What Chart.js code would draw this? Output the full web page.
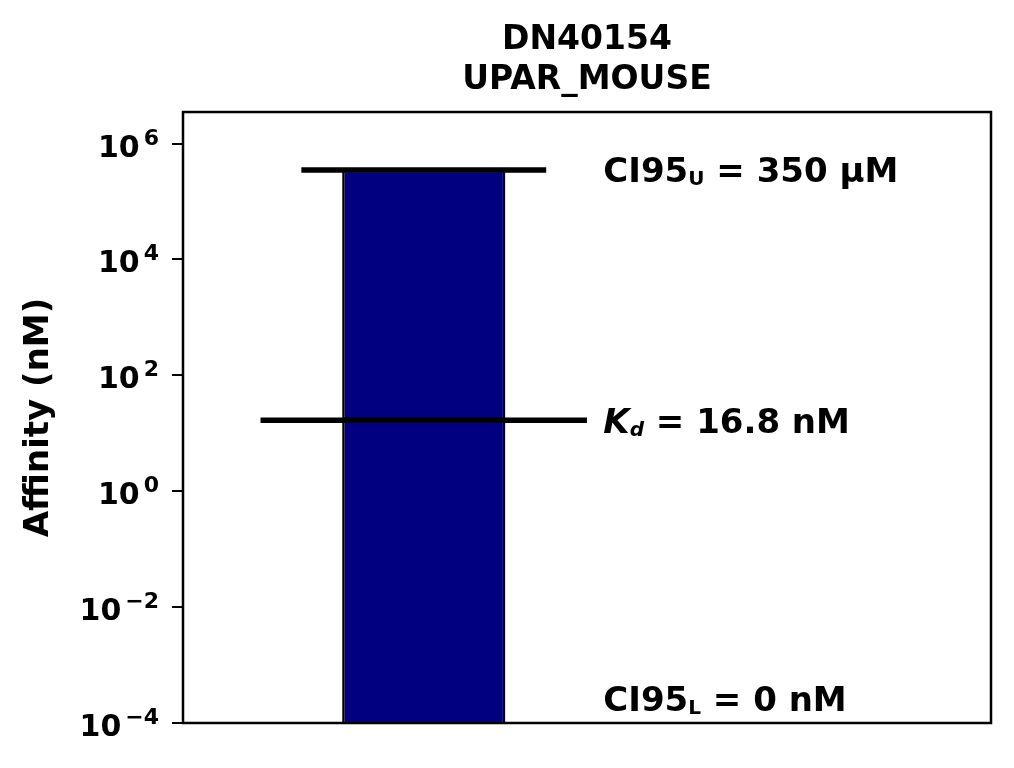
<!DOCTYPE html>
<html lang="en">
<head>
    <meta charset="utf-8">
    <script src="https://cdn.jsdelivr.net/npm/chart.js"></script>
    <style>
        html, body { margin: 0; padding: 0; background: #fff; }
        #wrap { width: 1014px; height: 768px; }
    </style>
</head>
<body>
    <div id="wrap"><canvas id="affinityChart" width="1014" height="768"></canvas></div>

    <script>
        // values in nM
        const titleLines = ['DN40154', 'UPAR_MOUSE'];
        const ciUpper = [350000];
        const kdValues = [16.8];
        const ciLower = [0];
        const yTickValues = [1e-4, 1e-2, 1e0, 1e2, 1e4, 1e6];
        const yTickLabels = ['10^\u22124', '10^\u22122', '10^0', '10^2', '10^4', '10^6'];

        const FONT = "'DejaVu Sans', sans-serif";

        function fmtConc(v) {
            if (v >= 1000) return (v / 1000) + ' \u00B5M';
            return v + ' nM';
        }

        // text next to the bar: [text, style, size factor, drop in px]
        const notes = [
            { value: ciUpper[0], place: 'center', parts: [['CI95', 'bold', 1, 0], ['U', 'bold', 0.6, 3], [' = ' + fmtConc(ciUpper[0]), 'bold', 1, 0]] },
            { value: kdValues[0], place: 'center', parts: [['K', 'italic bold', 1, 0], ['d', 'italic bold', 0.6, 3], [' = ' + fmtConc(kdValues[0]), 'bold', 1, 0]] },
            { value: ciLower[0], place: 'bottom', parts: [['CI95', 'bold', 1, 0], ['L', 'bold', 0.6, 3], [' = ' + fmtConc(ciLower[0]), 'bold', 1, 0]] }
        ];

        const noteSize = 34;
        const noteX = 0.88;

        const notesPlugin = {
            id: 'notes',
            afterDatasetsDraw(chart) {
                const ctx = chart.ctx;
                const xs = chart.scales.x, ys = chart.scales.y;
                ctx.save();
                ctx.fillStyle = '#000';
                ctx.textBaseline = 'alphabetic';
                notes.forEach(n => {
                    let x = xs.getPixelForValue(noteX);
                    let base;
                    if (n.place === 'bottom') {
                        base = chart.chartArea.bottom - 12;
                    } else {
                        base = ys.getPixelForValue(n.value) + noteSize * 0.729 / 2;
                    }
                    n.parts.forEach(p => {
                        const size = Math.round(noteSize * p[2]);
                        ctx.font = p[1] + ' ' + size + 'px ' + FONT;
                        ctx.fillText(p[0], x, base + p[3]);
                        x += ctx.measureText(p[0]).width;
                    });
                });
                ctx.restore();
            }
        };

        // 10 with a raised exponent, like the mathtext labels
        const tickLabelPlugin = {
            id: 'tickLabels',
            afterDraw(chart) {
                const ctx = chart.ctx;
                const ys = chart.scales.y;
                const right = chart.chartArea.left - 24;
                ctx.save();
                ctx.fillStyle = '#000';
                ctx.textBaseline = 'alphabetic';
                ctx.textAlign = 'left';
                yTickValues.forEach((v, i) => {
                    const [base, exp] = yTickLabels[i].split('^');
                    const y = ys.getPixelForValue(v) + 13;
                    ctx.font = 'bold 22px ' + FONT;
                    const wExp = ctx.measureText(exp).width;
                    ctx.font = 'bold 30px ' + FONT;
                    const wBase = ctx.measureText(base).width;
                    const x0 = right - wExp - 4 - wBase;
                    ctx.fillText(base, x0, y);
                    ctx.font = 'bold 22px ' + FONT;
                    ctx.fillText(exp, x0 + wBase + 4, y - 12);
                });
                ctx.restore();
            }
        };

        const framePlugin = {
            id: 'frame',
            afterDatasetsDraw(chart) {
                const a = chart.chartArea;
                const ctx = chart.ctx;
                ctx.save();
                ctx.strokeStyle = '#000';
                ctx.lineWidth = 2.5;
                ctx.strokeRect(a.left, a.top, a.right - a.left, a.bottom - a.top);
                ctx.restore();
            }
        };

        const ctx = document.getElementById('affinityChart').getContext('2d');
        new Chart(ctx, {
            type: 'bar',
            data: {
                datasets: [
                    {
                        type: 'line',
                        label: 'CI95 upper',
                        data: [{ x: -0.6, y: ciUpper[0] }, { x: 0.6, y: ciUpper[0] }],
                        borderColor: '#000',
                        borderWidth: 5.5,
                        pointRadius: 0,
                        order: 1
                    },
                    {
                        type: 'line',
                        label: 'Kd',
                        data: [{ x: -0.8, y: kdValues[0] }, { x: 0.8, y: kdValues[0] }],
                        borderColor: '#000',
                        borderWidth: 5.5,
                        pointRadius: 0,
                        order: 1
                    },
                    {
                        type: 'bar',
                        label: titleLines[1],
                        data: [{ x: 0, y: ciUpper[0] }],
                        backgroundColor: '#000080',
                        borderColor: '#000',
                        borderWidth: 2.5,
                        barPercentage: 0.8,
                        categoryPercentage: 1,
                        order: 2
                    }
                ]
            },
            options: {
                responsive: false,
                animation: false,
                layout: { autoPadding: false, padding: { left: 0, top: 0, right: 23, bottom: 45 } },
                plugins: {
                    legend: { display: false },
                    tooltip: { enabled: false },
                    title: {
                        display: true,
                        fullSize: false,
                        text: titleLines,
                        color: '#000',
                        font: { family: FONT, size: 33, weight: 'bold', lineHeight: 1.22 },
                        padding: { top: 20, bottom: 11.5 }
                    }
                },
                scales: {
                    x: {
                        type: 'linear',
                        offset: false,
                        min: -1.18,
                        max: 2.78,
                        afterBuildTicks: s => { s.ticks = [-1, 0, 1, 2].map(v => ({ value: v })); },
                        afterFit: s => { s.height = 0; },
                        ticks: { display: false },
                        grid: { display: false, drawTicks: false, offset: false },
                        border: { display: false }
                    },
                    y: {
                        type: 'logarithmic',
                        min: 1e-4,
                        max: ciUpper[0] * 10,
                        afterBuildTicks: s => { s.ticks = yTickValues.map(v => ({ value: v })); },
                        afterFit: s => { s.width = 183; },
                        ticks: { display: false, autoSkip: false },
                        grid: { drawOnChartArea: false, tickLength: 11, color: '#000', lineWidth: 2 },
                        border: { display: false },
                        title: {
                            display: true,
                            text: 'Affinity (nM)',
                            color: '#000',
                            font: { family: FONT, size: 34, weight: 'bold' },
                            padding: { top: 19, bottom: 0 }
                        }
                    }
                }
            },
            plugins: [notesPlugin, framePlugin, tickLabelPlugin]
        });
    </script>
</body>
</html>
